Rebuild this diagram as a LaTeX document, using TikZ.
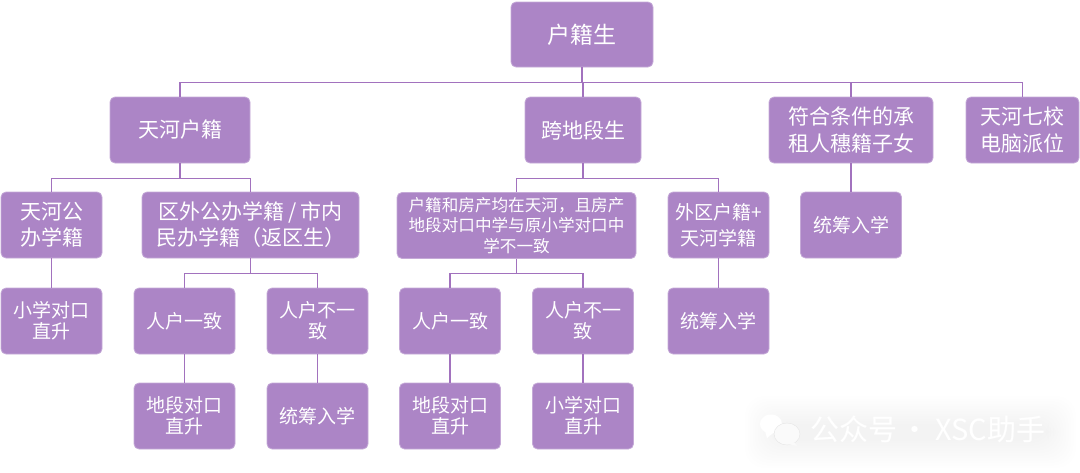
\documentclass[tikz,border=0pt]{standalone}
\usepackage{fontspec}
\setmainfont{Noto Sans CJK SC}
\definecolor{boxfill}{HTML}{AC85C6}
\definecolor{linkline}{HTML}{A272BE}
\tikzset{
  card/.style={draw=boxfill!70!white,line width=.8pt,fill=boxfill,rounded corners=5pt,text=white,align=center,inner sep=0pt},
  rootcard/.style={card,minimum width=142pt,minimum height=65pt,font=\fontsize{23}{28}\selectfont},
  topcard/.style={card,minimum height=66pt,font=\fontsize{21}{27}\selectfont},
  midcard/.style={card,minimum height=66pt,font=\fontsize{21}{26}\selectfont},
  leafcard/.style={card,minimum width=101pt,minimum height=66pt,font=\fontsize{19}{21}\selectfont},
  link/.style={draw=linkline,line width=1.1pt}
}
\begin{document}
\begin{tikzpicture}[x=1pt,y=-1pt]
  \useasboundingbox (0,0) rectangle (1080,472);
  % watermark
  \foreach \w in {0,...,11}
    \fill[black,opacity=.005,rounded corners=20pt] (745+2.5*\w,396+2.5*\w) rectangle (1076-2.5*\w,468-2.5*\w);
  \fill[white] (771,424) ellipse (11 and 9.5);
  \fill[white] (765,431) -- (767,438) -- (773,433) -- cycle;
  \fill[white!98!black,draw=white!90!black,line width=.4pt] (787,434) ellipse (13 and 11);
  \fill[white!98!black] (794,442) -- (797,446) -- (788,444) -- cycle;
  \node (mark) [anchor=west,inner sep=0pt,text=white,font=\fontsize{29}{30}\selectfont] at (810,429) {公众号\hspace{3pt}·\hspace{6pt}XSC助手};

  \node (root) [rootcard] at (582,34.5) {户籍生};

  \node (tianhe) [topcard,minimum width=140pt] at (180,130) {天河户籍};
  \node (kuadi) [topcard,minimum width=116pt] at (583,130) {跨地段生};
  \node (zuren) [topcard,minimum width=164pt] at (851,130) {符合条件的承\\租人穗籍子女};
  \node (qixiao) [topcard,minimum width=113pt] at (1022.5,130) {天河七校\\电脑派位};

  \node (gongban) [midcard,minimum width=101pt] at (51.5,225) {天河公\\办学籍};
  \node (fanqu) [midcard,minimum width=217pt] at (250.5,225) {区外公办学籍\hspace{4pt}/\hspace{4pt}市内\\民办学籍（返区生）};
  \node (fangchan) [midcard,minimum width=239pt,font=\fontsize{16.6}{20.5}\selectfont] at (516.5,225.5) {户籍和房产均在天河，且房产\\地段对口中学与原小学对口中\\学不一致};
  \node (waiqu) [leafcard,font=\fontsize{19}{26}\selectfont] at (718.5,225) {外区户籍+\\天河学籍};
  \node (tongchouA) [leafcard] at (851,225) {统筹入学};

  \node (zhishengA) [leafcard] at (51.5,321) {小学对口\\直升};
  \node (yizhiA) [leafcard] at (184.5,321) {人户一致};
  \node (buyiA) [leafcard] at (317.5,321) {人户不一\\致};
  \node (yizhiB) [leafcard] at (450,321) {人户一致};
  \node (buyiB) [leafcard] at (583,321) {人户不一\\致};
  \node (tongchouB) [leafcard] at (718.5,321) {统筹入学};

  \node (duikouA) [leafcard] at (184.5,416) {地段对口\\直升};
  \node (tongchouC) [leafcard] at (317.5,416) {统筹入学};
  \node (duikouB) [leafcard] at (450,416) {地段对口\\直升};
  \node (zhishengB) [leafcard] at (583,416) {小学对口\\直升};

  \foreach \from/\to in
  {root/tianhe, root/kuadi, root/zuren, root/qixiao,
   tianhe/gongban, tianhe/fanqu, kuadi/fangchan, kuadi/waiqu, zuren/tongchouA,
   gongban/zhishengA, fanqu/yizhiA, fanqu/buyiA, fangchan/yizhiB, fangchan/buyiB, waiqu/tongchouB,
   yizhiA/duikouA, buyiA/tongchouC, yizhiB/duikouB, buyiB/zhishengB}
    \draw[link] (\from.south) -- ++(0,15) -| (\to.north);
\end{tikzpicture}
\end{document}
